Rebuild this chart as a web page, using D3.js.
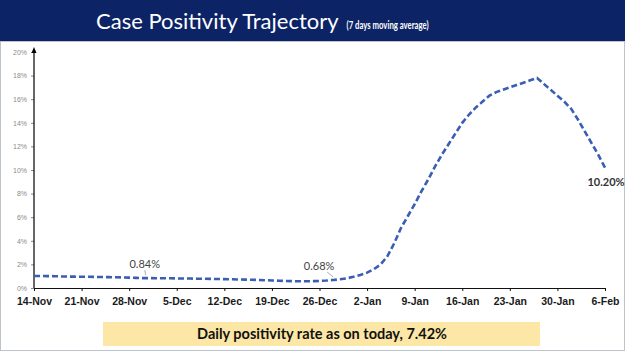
<!DOCTYPE html>
<html>
<head>
<meta charset="utf-8">
<script src="https://cdn.jsdelivr.net/npm/d3@7"></script>
<style>
  body { margin: 0; background: #fff; }
  svg { display: block; font-family: Lato, "Open Sans", sans-serif; }
</style>
</head>
<body>
<svg id="chart" width="625" height="351"></svg>
<script>
// daily 7-day moving average positivity (%), 14-Nov to 6-Feb
var startDate = new Date(2020, 10, 14)
var positivity = [
  1.02, 1.02, 1.01, 1.00, 0.98, 0.97, 0.96,
  0.95, 0.95, 0.94, 0.93, 0.92, 0.91, 0.90,
  0.88, 0.86, 0.84, 0.84, 0.83, 0.83, 0.82,
  0.81, 0.80, 0.80, 0.79, 0.78, 0.77, 0.76,
  0.75, 0.74, 0.72, 0.71, 0.70, 0.68, 0.66,
  0.64, 0.62, 0.60, 0.58, 0.57, 0.57, 0.58,
  0.60, 0.63, 0.68, 0.74, 0.82, 0.95, 1.10,
  1.30, 1.60, 2.00, 2.70, 3.80, 5.10, 6.10,
  7.10, 8.20, 9.20, 10.30, 11.30, 12.20, 13.10,
  14.00, 14.70, 15.30, 15.80, 16.30, 16.60, 16.80,
  17.00, 17.20, 17.40, 17.60, 17.80, 17.30, 16.80,
  16.30, 15.80, 15.20, 14.30, 13.30, 12.30, 11.30,
  10.20
]
var xTickLabels = ["14-Nov", "21-Nov", "28-Nov", "5-Dec", "12-Dec", "19-Dec", "26-Dec",
                   "2-Jan", "9-Jan", "16-Jan", "23-Jan", "30-Jan", "6-Feb"]
var yTicks = [0, 2, 4, 6, 8, 10, 12, 14, 16, 18, 20]
var callouts = [
  {day: 16, value: 0.84, label: "0.84%"},
  {day: 44, value: 0.68, label: "0.68%"},
  {day: 84, value: 10.20, label: "10.20%"}
]
var footnote = "Daily positivity rate as on today, 7.42%"

var dimensions = {
  width: 625,
  height: 351,
  margin: { top: 52, bottom: 63, right: 20, left: 34 }
}

var svg = d3.select("#chart")

// title banner
svg.append("rect")
  .attr("x", 0).attr("y", 0)
  .attr("width", dimensions.width).attr("height", 41)
  .attr("fill", "#0c2366")
svg.append("rect")
  .attr("x", 0.5).attr("y", 41.5)
  .attr("width", dimensions.width - 1).attr("height", dimensions.height - 42)
  .attr("fill", "none").attr("stroke", "#bfc4cc")

var title = svg.append("text")
  .attr("x", 96).attr("y", 29)
  .attr("fill", "#fff")
title.append("tspan")
  .attr("font-size", 22)
  .text("Case Positivity Trajectory")
title.append("tspan")
  .attr("dx", 8)
  .attr("font-size", 10.5)
  .attr("font-weight", "bold")
  .attr("textLength", 82)
  .attr("lengthAdjust", "spacingAndGlyphs")
  .text("(7 days moving average)")

var days = positivity.map((v, i) => i)

var xScale = d3.scaleLinear()
  .domain([0, 84])
  .range([dimensions.margin.left, 605])

var yScale = d3.scaleLinear()
  .domain([0, 20])
  .range([dimensions.height - dimensions.margin.bottom, dimensions.margin.top])

// y axis
var yAxis = svg.append("g")
  .attr("transform", "translate(" + dimensions.margin.left + ",0)")
  .call(d3.axisLeft(yScale).tickValues(yTicks).tickFormat(d => d + "%").tickSize(3))
yAxis.select(".domain").remove()
yAxis.append("line")
  .attr("x1", 0).attr("x2", 0)
  .attr("y1", yScale(0)).attr("y2", yScale(20) - 2)
  .attr("stroke", "#000").attr("stroke-width", 1.2)
yAxis.append("path")
  .attr("d", "M0," + (yScale(20) - 5) + "L-2.5," + (yScale(20) + 1) + "L2.5," + (yScale(20) + 1) + "Z")
  .attr("fill", "#000")
yAxis.selectAll(".tick line").attr("stroke", "#888")
yAxis.selectAll(".tick text")
  .attr("fill", "#8a8a8a")
  .attr("font-size", 7)
  .attr("x", -7)

// x axis
var xAxis = svg.append("g")
  .attr("transform", "translate(0," + yScale(0) + ")")
  .call(d3.axisBottom(xScale)
    .tickValues(d3.range(0, 85, 7))
    .tickFormat((d, i) => xTickLabels[i])
    .tickSize(3)
    .tickSizeOuter(0))
xAxis.select(".domain").attr("stroke", "#111").attr("stroke-width", 1.2)
xAxis.selectAll(".tick line").attr("stroke", "#111")
xAxis.selectAll(".tick text")
  .attr("fill", "#1a1a1a")
  .attr("font-size", 10.5)
  .attr("font-weight", "bold")
  .attr("dy", "1em")

// trajectory line
var line = d3.line()
  .x(d => xScale(d))
  .y(d => yScale(positivity[d]))

svg.append("path")
  .datum(days)
  .attr("d", line)
  .attr("fill", "none")
  .attr("stroke", "#3a5eb4")
  .attr("stroke-width", 2.6)
  .attr("stroke-dasharray", "6,3")

// callouts
callouts.forEach(function (c, i) {
  var px = xScale(c.day), py = yScale(c.value)
  if (i < 2) {
    var tx = i === 0 ? px + 2 : px - 14
    svg.append("line")
      .attr("x1", tx + (i === 0 ? 0 : 8)).attr("y1", py - 8)
      .attr("x2", px + (i === 0 ? 3 : 0)).attr("y2", py - 3)
      .attr("stroke", "#999").attr("stroke-width", 0.8)
    svg.append("text")
      .attr("x", tx).attr("y", py - 10)
      .attr("text-anchor", "middle")
      .attr("font-size", 11)
      .attr("fill", "#444")
      .text(c.label)
  } else {
    svg.append("text")
      .attr("x", px + 1).attr("y", py + 18)
      .attr("text-anchor", "middle")
      .attr("font-size", 11)
      .attr("font-weight", "bold")
      .attr("fill", "#333")
      .text(c.label)
  }
})

// footnote box
svg.append("rect")
  .attr("x", 103).attr("y", 322)
  .attr("width", 437).attr("height", 24)
  .attr("fill", "#fde7a6")
svg.append("text")
  .attr("x", 322).attr("y", 339)
  .attr("text-anchor", "middle")
  .attr("font-size", 14.5)
  .attr("font-weight", "bold")
  .attr("fill", "#111")
  .text(footnote)
</script>
</body>
</html>
